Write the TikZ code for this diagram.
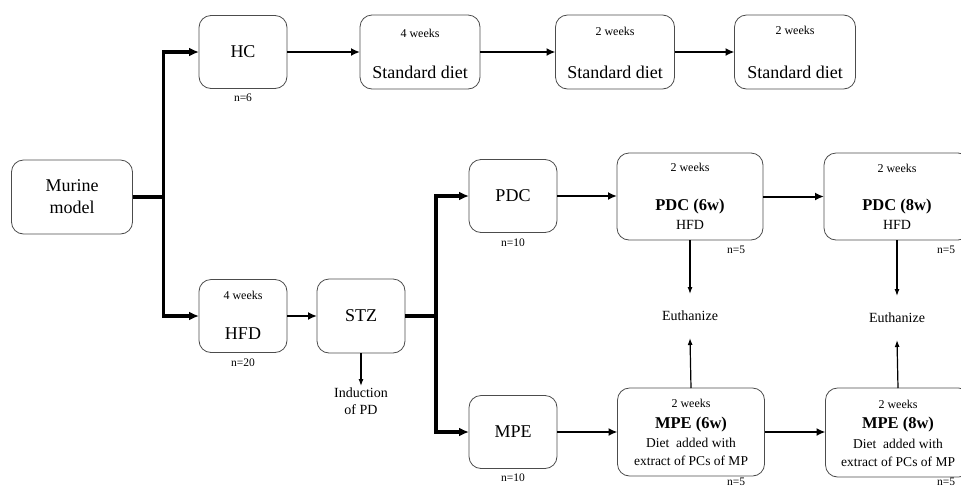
\documentclass[tikz,border=0pt]{standalone}
\usepackage{fontspec}
\setmainfont{Liberation Serif}
\usetikzlibrary{arrows.meta,positioning,calc}

\begin{document}
\begin{tikzpicture}[x=1pt,y=-1pt,every node/.style={outer sep=0pt}]
\tikzstyle{box}=[draw=black!70,line width=0.8pt,rounded corners=12pt,
minimum width=88pt,minimum height=73pt,inner sep=0pt]
\tikzstyle{wide}=[box,minimum width=146pt,minimum height=87pt]
\tikzstyle{big}=[font=\fontsize{18}{22}\selectfont]
\tikzstyle{weeks}=[font=\fontsize{12}{14}\selectfont]
\tikzstyle{count}=[font=\fontsize{11.5}{13}\selectfont]
\tikzstyle{mid}=[font=\fontsize{14}{17}\selectfont]
\tikzstyle{title}=[font=\bfseries\fontsize{16.5}{19}\selectfont]
\tikzstyle{flow}=[line width=2pt,-{Latex[length=9pt,width=8pt]}]
\tikzstyle{branch}=[line width=3.5pt,-{Latex[length=10pt,width=9pt]}]
\tikzstyle{fine}=[line width=1.2pt,-{Latex[length=7pt,width=5pt]}]

\path[use as bounding box,clip] (0,0) rectangle (961,488);

% healthy control line
\node (murine) [box,big,minimum width=121pt,minimum height=74pt,align=center]
at (72,197) {Murine\\model};
\node (hc) [box,big] at (243,52) {HC};
\node (hcn) [count] at (243,98) {n=6};
\node (stdone) [box,minimum width=120pt,minimum height=74pt] at (420,52) {};
\node (stdonew) [weeks] at (420,33) {4 weeks};
\node (stdonet) [big] at (420,72) {Standard diet};
\node (stdtwo) [box,minimum width=119pt,minimum height=74pt] at (615,52) {};
\node (stdtwow) [weeks] at (615,31) {2 weeks};
\node (stdtwot) [big] at (615,72) {Standard diet};
\node (stdthree) [box,minimum width=121pt,minimum height=74pt] at (795,52) {};
\node (stdthreew) [weeks] at (795,30) {2 weeks};
\node (stdthreet) [big] at (795,72) {Standard diet};
%
% disease line
\node (hfd) [box] at (243,316) {};
\node (hfdw) [weeks] at (243,295) {4 weeks};
\node (hfdt) [big] at (243,334) {HFD};
\node (hfdn) [count] at (243,363) {n=20};
\node (stz) [box,big,minimum height=74pt] at (361,316) {STZ};
\node (induct) [mid,align=center,inner sep=2pt,below=33pt of stz,
font=\fontsize{14}{17}\selectfont] {Induction\\of PD};
\node (pdc) [box,big] at (513,196) {PDC};
\node (pdcn) [count] at (513,243) {n=10};
\node (mpe) [box,big] at (513,432) {MPE};
\node (mpen) [count] at (513,478) {n=10};
%
\node (pdcsix) [wide] at (690,196.5) {};
\node (pdcsixw) [weeks] at (690,167) {2 weeks};
\node (pdcsixt) [title] at (690,207) {PDC (6w)};
\node (pdcsixd) [mid] at (690,225) {HFD};
\node (pdcsixn) [count] at (736,250) {n=5};
\node (pdceight) [wide] at (897,196.5) {};
\node (pdceightw) [weeks] at (897,168) {2 weeks};
\node (pdceightt) [title] at (897,207) {PDC (8w)};
\node (pdceightd) [mid] at (897,225) {HFD};
\node (pdceightn) [count] at (946,250) {n=5};
%
\node (mpesix) [wide,minimum width=147pt,minimum height=88pt] at (691,432) {};
\node (mpesixw) [weeks] at (691,403) {2 weeks};
\node (mpesixt) [title] at (691,425) {MPE (6w)};
\node (mpesixd) [mid,align=center,font=\fontsize{13.5}{18}\selectfont]
at (691,452) {Diet\ \ added with\\extract of PCs of MP};
\node (mpesixn) [count] at (736,482) {n=5};
\node (mpeeight) [wide,minimum width=145pt,minimum height=89pt] at (898,432.5) {};
\node (mpeeightw) [weeks] at (898,404) {2 weeks};
\node (mpeeightt) [title] at (898,425) {MPE (8w)};
\node (mpeeightd) [mid,align=center,font=\fontsize{13.5}{18}\selectfont]
at (898,453) {Diet\ \ added with\\extract of PCs of MP};
\node (mpeeightn) [count] at (946,482) {n=5};
%
\node (euthsix) [mid,minimum height=44pt] at (690,316) {Euthanize};
\node (eutheight) [mid,minimum height=44pt] at (897,318) {Euthanize};
%
% connectors
\draw [branch] (murine.east) -- ++(31,0) |- (hc.west);
\draw [branch] (murine.east) -- ++(31,0) |- (hfd.west);
\draw [flow] (hc) -- (stdone);
\draw [flow] (stdone) -- (stdtwo);
\draw [flow] (stdtwo) -- (stdthree);
\draw [flow] (hfd) -- (stz);
\draw [fine] (stz.south) -- (induct.north);
\draw [branch] (stz.east) -- ++(31,0) |- (pdc.west);
\draw [branch] (stz.east) -- ++(31,0) |- (mpe.west);
\draw [flow] (pdc.east) -- (pdc.east -| pdcsix.west);
\draw [flow] (pdcsix) -- (pdceight);
\draw [flow] (mpe.east) -- (mpe.east -| mpesix.west);
\draw [flow] (mpesix.east) -- (mpesix.east -| mpeeight.west);
\draw [fine] (pdcsix.south) -- (euthsix.north);
\draw [fine] (mpesix.north) -- (euthsix.south);
\draw [fine] (pdceight.south) -- (eutheight.north);
\draw [fine] (mpeeight.north) -- (eutheight.south);
\end{tikzpicture}
\end{document}
